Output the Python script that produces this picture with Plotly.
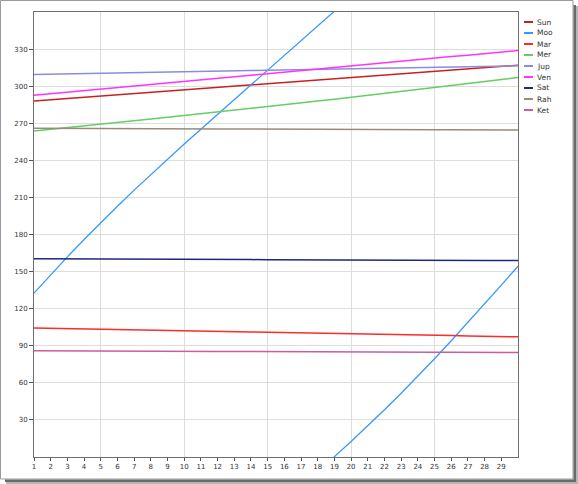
import plotly.graph_objects as go

# ---------------- data ----------------
days = list(range(1, 31))

sun = [288.0, 289.0, 290.0, 291.0, 292.0, 293.0, 294.0, 295.0, 296.0, 297.0,
       298.0, 299.0, 300.0, 301.0, 302.0, 303.0, 304.0, 305.0, 306.0, 307.0,
       308.0, 309.0, 310.0, 311.0, 312.0, 313.0, 314.0, 315.0, 316.0, 317.0]
# Moon longitude (0-360, wraps around between day 18 and 19)
moo = [132.6, 147.4, 161.9, 176.0, 189.6, 202.9, 215.9, 228.6, 241.0, 253.2,
       265.2, 277.1, 288.9, 300.7, 312.5, 324.3, 336.2, 348.2, 0.3, 12.6,
       25.2, 38.2, 51.6, 65.4, 79.5, 94.0, 108.8, 123.8, 139.0, 154.3]
mar = [104.4, 104.2, 103.9, 103.7, 103.4, 103.2, 102.9, 102.7, 102.4, 102.2,
       101.9, 101.7, 101.4, 101.2, 100.9, 100.7, 100.4, 100.2, 99.9, 99.7,
       99.4, 99.2, 98.9, 98.7, 98.4, 98.2, 97.9, 97.7, 97.4, 97.2]
mer = [263.8, 265.1, 266.5, 267.8, 269.2, 270.6, 272.0, 273.4, 274.8, 276.2,
       277.6, 279.1, 280.5, 282.0, 283.5, 285.0, 286.5, 288.0, 289.5, 291.0,
       292.6, 294.1, 295.7, 297.3, 298.9, 300.5, 302.1, 303.7, 305.4, 307.0]
jup = [309.5, 309.7, 310.0, 310.2, 310.5, 310.7, 310.9, 311.2, 311.4, 311.7,
       311.9, 312.1, 312.4, 312.6, 312.9, 313.1, 313.3, 313.6, 313.8, 314.1,
       314.3, 314.5, 314.8, 315.0, 315.3, 315.5, 315.7, 316.0, 316.2, 316.5]
ven = [292.6, 293.9, 295.1, 296.4, 297.6, 298.9, 300.1, 301.4, 302.6, 303.9,
       305.1, 306.4, 307.6, 308.9, 310.1, 311.4, 312.6, 313.9, 315.1, 316.4,
       317.6, 318.9, 320.1, 321.4, 322.6, 323.9, 325.1, 326.4, 327.6, 328.9]
sat = [160.3, 160.3, 160.2, 160.2, 160.1, 160.1, 160.0, 160.0, 159.9, 159.9,
       159.8, 159.8, 159.7, 159.7, 159.6, 159.6, 159.5, 159.5, 159.4, 159.4,
       159.3, 159.3, 159.2, 159.2, 159.1, 159.1, 159.0, 159.0, 158.9, 158.9]
rah = [266.0, 265.9, 265.9, 265.8, 265.8, 265.7, 265.7, 265.6, 265.6, 265.5,
       265.5, 265.4, 265.4, 265.3, 265.3, 265.3, 265.2, 265.2, 265.1, 265.1,
       265.0, 265.0, 264.9, 264.9, 264.8, 264.8, 264.7, 264.7, 264.6, 264.5]
ket = [86.0, 85.9, 85.9, 85.8, 85.8, 85.7, 85.7, 85.6, 85.6, 85.5,
       85.5, 85.4, 85.4, 85.3, 85.3, 85.3, 85.2, 85.2, 85.1, 85.1,
       85.0, 85.0, 84.9, 84.9, 84.8, 84.8, 84.7, 84.7, 84.6, 84.5]

names = ["Sun", "Moo", "Mar", "Mer", "Jup", "Ven", "Sat", "Rah", "Ket"]
series = [sun, moo, mar, mer, jup, ven, sat, rah, ket]
colors = ["#C8201E", "#3399FF", "#FF2A2A", "#66CC66", "#8C8CDC",
          "#FF33FF", "#1C2A78", "#9A8A7A", "#CC5C9C"]

x_ticks = list(range(1, 30))
x_grid = [5, 10, 15, 20, 25]
y_ticks = [30, 60, 90, 120, 150, 180, 210, 240, 270, 300, 330]

# ---------------- geometry helpers (pixel -> paper) ----------------
W, H = 578, 484
ML, MR, MT, MB = 34, 60, 12, 27
PW, PH = W - ML - MR, H - MT - MB


def px(x):
    return (x - ML) / PW


def py(y):
    return (H - MB - y) / PH


fig = go.Figure()

# invisible trace on the grid axis so it gets drawn
fig.add_trace(go.Scatter(x=days, y=sun, xaxis="x2", mode="lines",
                         line=dict(width=0), opacity=0, hoverinfo="skip",
                         showlegend=False))

for name, vals, col in zip(names, series, colors):
    if name == "Moo":
        unwrapped, off = [], 0.0
        for i, v in enumerate(vals):
            if i > 0 and v < vals[i - 1]:
                off += 360.0
            unwrapped.append(v + off)
        fig.add_trace(go.Scatter(x=days, y=unwrapped, mode="lines", name=name,
                                 line=dict(color=col, width=1.3), showlegend=False))
        fig.add_trace(go.Scatter(x=days, y=[u - 360.0 for u in unwrapped], mode="lines",
                                 name=name, line=dict(color=col, width=1.3),
                                 showlegend=False))
    else:
        fig.add_trace(go.Scatter(x=days, y=vals, mode="lines", name=name,
                                 line=dict(color=col, width=1.5), showlegend=False))

tickfont = dict(family="DejaVu Sans", size=7, color="#333333")

fig.update_layout(
    width=W, height=H,
    margin=dict(l=ML, r=MR, t=MT, b=MB, pad=0),
    paper_bgcolor="white", plot_bgcolor="white",
    showlegend=False,
    xaxis=dict(range=[1, 30], tickmode="array", tickvals=x_ticks,
               ticktext=[str(v) for v in x_ticks], showgrid=False,
               ticks="outside", ticklen=3, tickcolor="#555555",
               showline=True, linecolor="#6E6E6E", linewidth=1, mirror=True,
               tickfont=tickfont, zeroline=False, fixedrange=True),
    xaxis2=dict(range=[1, 30], overlaying="x", anchor="y", tickmode="array",
                tickvals=x_grid, showgrid=True, gridcolor="#DDDDDD", gridwidth=1,
                showticklabels=False, ticks="", showline=False, zeroline=False),
    yaxis=dict(range=[0, 360], tickmode="array", tickvals=y_ticks,
               ticktext=[str(v) for v in y_ticks],
               showgrid=True, gridcolor="#DDDDDD", gridwidth=1,
               ticks="outside", ticklen=4, tickcolor="#555555",
               showline=True, linecolor="#6E6E6E", linewidth=1, mirror=True,
               tickfont=tickfont, zeroline=False, fixedrange=True),
)

shapes = []
# outer frame with drop shadow
shapes.append(dict(type="rect", xref="paper", yref="paper",
                   x0=px(0.5), x1=px(573), y0=py(0.5), y1=py(479),
                   line=dict(color="#9A9A9A", width=1), fillcolor="rgba(0,0,0,0)"))
shapes.append(dict(type="rect", xref="paper", yref="paper",
                   x0=px(573.5), x1=px(576), y0=py(5), y1=py(481.5),
                   line=dict(width=0), fillcolor="#6A6A6A"))
shapes.append(dict(type="rect", xref="paper", yref="paper",
                   x0=px(576), x1=px(578), y0=py(6), y1=py(484),
                   line=dict(width=0), fillcolor="#B5B5B5"))
shapes.append(dict(type="rect", xref="paper", yref="paper",
                   x0=px(5), x1=px(576), y0=py(479.5), y1=py(482),
                   line=dict(width=0), fillcolor="#6A6A6A"))
shapes.append(dict(type="rect", xref="paper", yref="paper",
                   x0=px(6), x1=px(578), y0=py(482), y1=py(484),
                   line=dict(width=0), fillcolor="#B5B5B5"))

annotations = []
# custom legend
for i, (name, col) in enumerate(zip(names, colors)):
    yc = 22 + i * 11
    shapes.append(dict(type="line", xref="paper", yref="paper",
                       x0=px(524), x1=px(533), y0=py(yc), y1=py(yc),
                       line=dict(color=col, width=2)))
    annotations.append(dict(xref="paper", yref="paper", x=px(535), y=py(yc),
                            xanchor="left", yanchor="middle", text=name,
                            showarrow=False,
                            font=dict(family="DejaVu Sans", size=7.5, color="#333333")))

fig.update_layout(shapes=shapes, annotations=annotations)

fig.write_html(
    "out.html",
    config={"displayModeBar": False},
    post_script="document.body.style.margin='0';document.body.style.overflow='hidden';",
)
